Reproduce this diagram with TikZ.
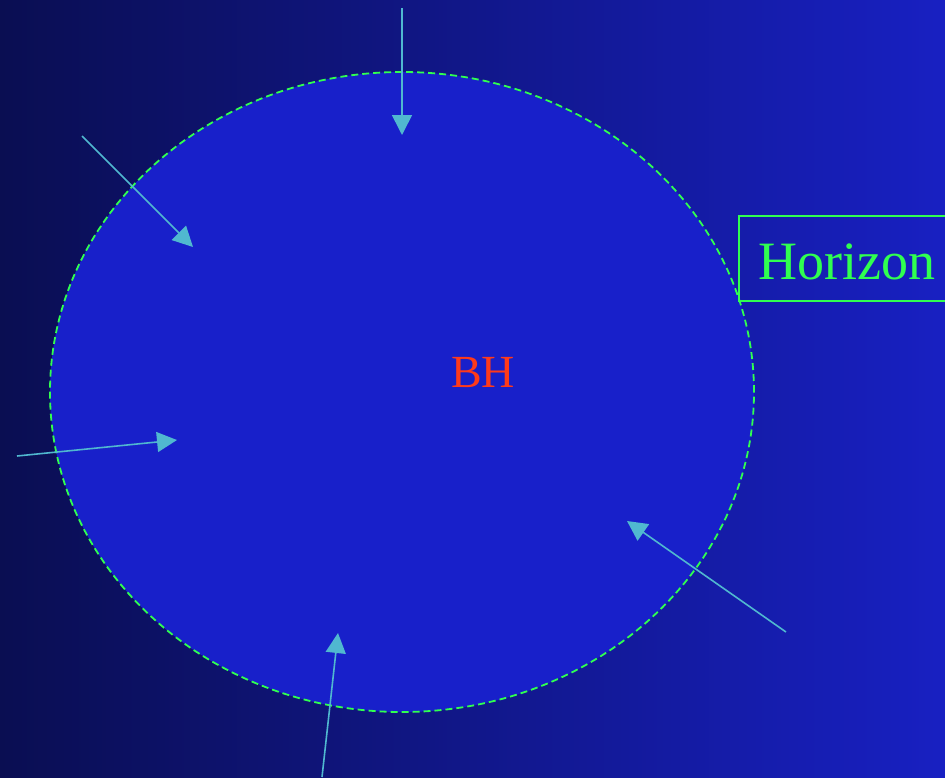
\documentclass[tikz,border=0pt]{standalone}
\usepackage{fontspec}
\setmainfont{Liberation Serif}
\usetikzlibrary{arrows.meta,shapes.geometric}
\definecolor{bgleft}{HTML}{0A0E52}
\definecolor{bgright}{HTML}{1820C2}
\definecolor{bhfill}{HTML}{1820CA}
\definecolor{hgreen}{HTML}{30FF50}
\definecolor{bhred}{HTML}{FF3A1A}
\definecolor{arrowc}{HTML}{50B8D0}
\tikzset{
  infall/.style={draw=arrowc, line width=1.6pt, -{Triangle[length=20pt,width=20pt]}},
  horizon/.style={draw=hgreen, dash pattern=on 7pt off 4pt, line width=1.8pt, fill=bhfill},
}
\begin{document}
\begin{tikzpicture}[x=1pt,y=-1pt]
\useasboundingbox (0,0) rectangle (945,777);
\clip (0,0) rectangle (945,777);
\shade[left color=bgleft, right color=bgright, shading=axis] (0,0) rectangle (945,777);
\node[horizon, ellipse, minimum width=704pt, minimum height=640pt, inner sep=0pt] (bh) at (402,392) {};
\node[text=bhred, font=\fontsize{46}{50}\selectfont] (bhlabel) at (483,372) {BH};
\node[draw=hgreen, line width=1.8pt, anchor=west, text=hgreen, font=\fontsize{54}{58}\selectfont, minimum height=85pt, text width=240pt, align=left, inner xsep=20pt, inner ysep=0pt, text depth=0pt, text height=0pt] (hlabel) at (738,258.5) {};
\node[text=hgreen, font=\fontsize{54}{58}\selectfont, anchor=base west, inner sep=0pt] (htext) at (758,279) {Horizon};
\coordinate (s1) at (402,8);   \coordinate (e1) at (402,135);
\coordinate (s2) at (82,136);  \coordinate (e2) at (193,247);
\coordinate (s3) at (17,456);  \coordinate (e3) at (177,440);
\coordinate (s4) at (786,632); \coordinate (e4) at (627,521);
\coordinate (s5) at (322,777); \coordinate (e5) at (338,633);
\foreach \i in {1,...,5} \draw[infall] (s\i) -- (e\i);
\end{tikzpicture}
\end{document}
